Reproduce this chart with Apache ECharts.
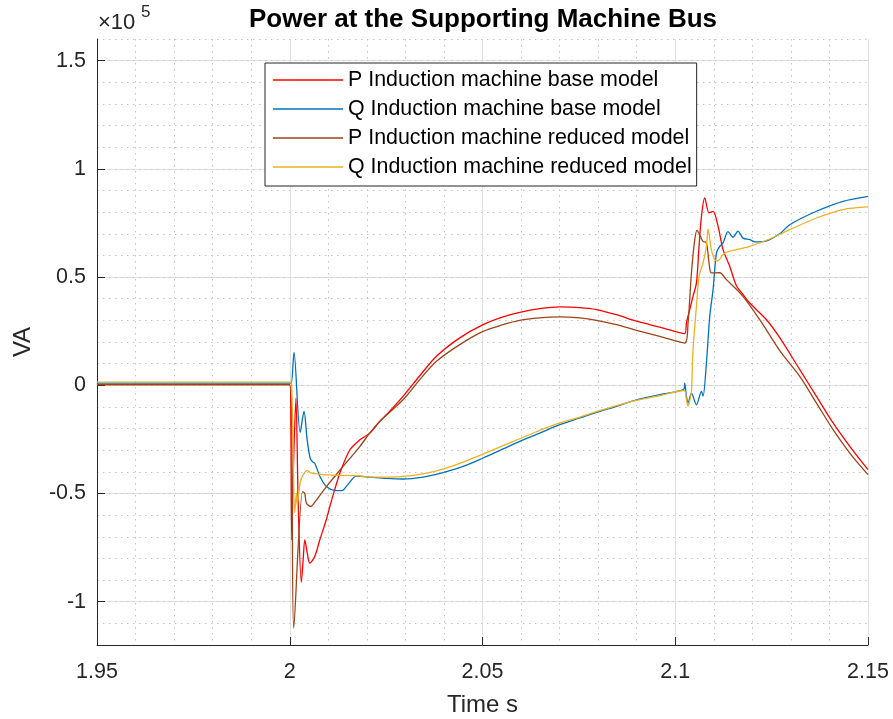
<!DOCTYPE html>
<html>
<head>
<meta charset="utf-8">
<script src="https://cdn.jsdelivr.net/npm/echarts@6/dist/echarts.min.js"></script>
<style>
html,body{margin:0;padding:0;background:#fff;}
#chart{width:893px;height:719px;}
</style>
</head>
<body>
<div id="chart"></div>
<script>
// Values are in units of 1e5 VA (axis multiplier shown as x10^5)
const seriesNames = [
  'P Induction machine base model',
  'Q Induction machine base model',
  'P Induction machine reduced model',
  'Q Induction machine reduced model'
];
const xTicks = [1.95, 2.0, 2.05, 2.1, 2.15];
const yTicks = [-1, -0.5, 0, 0.5, 1, 1.5];

const pBaseT = [1.95, 2.0, 2.0003, 2.00052, 2.0010, 2.0016, 2.0022, 2.0030, 2.0035, 2.0039, 2.0046, 2.0052, 2.0065, 2.0078, 2.0095, 2.0104, 2.0117, 2.0130, 2.0156, 2.0182, 2.02075, 2.02335, 2.02508, 2.02939, 2.03372, 2.03806, 2.0441, 2.05014, 2.05533, 2.05966, 2.06485, 2.07004, 2.07523, 2.07956, 2.08475, 2.08994, 2.09598, 2.10246, 2.1029, 2.10376, 2.10461, 2.1055, 2.10617, 2.1068, 2.10765, 2.10877, 2.10981, 2.1111, 2.1124, 2.11413, 2.11587, 2.11757, 2.11933, 2.12366, 2.12711, 2.1323, 2.13663, 2.14094, 2.14527, 2.15];
const pBaseV = [0.003, 0.003, -0.2, -0.714, -0.35, -0.06, -0.55, -0.91, -0.80, -0.714, -0.78, -0.822, -0.79, -0.714, -0.62, -0.56, -0.48, -0.406, -0.298, -0.252, -0.221, -0.167, -0.136, -0.051, 0.044, 0.134, 0.219, 0.280, 0.316, 0.337, 0.354, 0.362, 0.359, 0.350, 0.326, 0.296, 0.269, 0.239, 0.288, 0.350, 0.411, 0.473, 0.642, 0.781, 0.866, 0.797, 0.804, 0.735, 0.627, 0.550, 0.460, 0.420, 0.380, 0.303, 0.220, 0.072, -0.051, -0.174, -0.282, -0.390];

const qBaseT = [1.95, 2.0, 2.0004, 2.0011, 2.0027, 2.0037, 2.0045, 2.0053, 2.0060, 2.0065, 2.0078, 2.0095, 2.0117, 2.0135, 2.0150, 2.0173, 2.02075, 2.02508, 2.02939, 2.03458, 2.03977, 2.04496, 2.05014, 2.05533, 2.05966, 2.06485, 2.07004, 2.07523, 2.07956, 2.08475, 2.08994, 2.09598, 2.10228, 2.10246, 2.1029, 2.10332, 2.1042, 2.1055, 2.1068, 2.10721, 2.10809, 2.10895, 2.10981, 2.11069, 2.11154, 2.1124, 2.11369, 2.11498, 2.11628, 2.11757, 2.11933, 2.12062, 2.12322, 2.12711, 2.1297, 2.13663, 2.14354, 2.15];
const qBaseV = [0.010, 0.010, 0.010, 0.152, -0.218, -0.121, -0.250, -0.337, -0.355, -0.360, -0.420, -0.468, -0.486, -0.487, -0.460, -0.420, -0.424, -0.430, -0.433, -0.424, -0.403, -0.375, -0.336, -0.294, -0.259, -0.221, -0.182, -0.151, -0.125, -0.097, -0.067, -0.043, -0.017, 0.010, -0.050, -0.082, -0.036, -0.090, -0.028, -0.050, 0.103, 0.319, 0.442, 0.611, 0.642, 0.658, 0.710, 0.684, 0.712, 0.680, 0.673, 0.663, 0.665, 0.700, 0.742, 0.804, 0.850, 0.873];

const pRedT = [1.95, 2.0, 2.00104, 2.00332, 2.0039, 2.00433, 2.0055, 2.0065, 2.00952, 2.01383, 2.01816, 2.02075, 2.02335, 2.02939, 2.03372, 2.03806, 2.0441, 2.05014, 2.05533, 2.05966, 2.06485, 2.07004, 2.07523, 2.07956, 2.08475, 2.08994, 2.09598, 2.10246, 2.10332, 2.1042, 2.10506, 2.10565, 2.10654, 2.10721, 2.10809, 2.10877, 2.10939, 2.11154, 2.11328, 2.11757, 2.12192, 2.12711, 2.1323, 2.13663, 2.14094, 2.14527, 2.15];
const pRedV = [0.003, 0.003, -1.122, -0.491, -0.500, -0.545, -0.560, -0.540, -0.468, -0.375, -0.283, -0.221, -0.167, -0.067, 0.026, 0.111, 0.188, 0.249, 0.280, 0.300, 0.311, 0.316, 0.311, 0.300, 0.280, 0.254, 0.226, 0.195, 0.288, 0.519, 0.673, 0.716, 0.688, 0.665, 0.658, 0.565, 0.519, 0.520, 0.488, 0.411, 0.303, 0.160, 0.041, -0.082, -0.205, -0.313, -0.413];

const qRedT = [1.95, 2.0, 2.0005, 2.0013, 2.0017, 2.0019, 2.0023, 2.0027, 2.0033, 2.0045, 2.0055, 2.0065, 2.0095, 2.0180, 2.02075, 2.02508, 2.02939, 2.03458, 2.03977, 2.04496, 2.05014, 2.05533, 2.05966, 2.06485, 2.07004, 2.07523, 2.07956, 2.08475, 2.08994, 2.09598, 2.10228, 2.1029, 2.10332, 2.10376, 2.1042, 2.10461, 2.1055, 2.10617, 2.10721, 2.10809, 2.10851, 2.10939, 2.11025, 2.1111, 2.1124, 2.11369, 2.11587, 2.11933, 2.12451, 2.1297, 2.13663, 2.14354, 2.15];
const qRedV = [0.015, 0.015, 0.000, -0.590, -0.500, -0.550, -0.500, -0.450, -0.420, -0.394, -0.405, -0.408, -0.414, -0.418, -0.424, -0.424, -0.421, -0.409, -0.387, -0.355, -0.318, -0.279, -0.247, -0.208, -0.174, -0.147, -0.122, -0.094, -0.070, -0.048, -0.024, -0.067, -0.096, -0.070, -0.030, 0.165, 0.365, 0.503, 0.565, 0.642, 0.721, 0.625, 0.581, 0.575, 0.604, 0.617, 0.627, 0.642, 0.676, 0.719, 0.773, 0.812, 0.824];

const colors = ['#ff0000', '#0072bd', '#9c4417', '#edb120'];

function pairs(t, v) { return t.map((x, i) => [x, v[i]]); }
const seriesData = [pairs(pBaseT, pBaseV), pairs(qBaseT, qBaseV), pairs(pRedT, pRedV), pairs(qRedT, qRedV)];

const FONT = "'Liberation Sans', Arial, Helvetica, sans-serif";
const AX = '#262626';
const chart = echarts.init(document.getElementById('chart'), null, {renderer: 'canvas'});

const option = {
  animation: false,
  backgroundColor: '#fff',
  title: {
    text: 'Power at the Supporting Machine Bus',
    left: 478, top: 2, textAlign: 'center',
    textStyle: {fontFamily: FONT, fontSize: 26, fontWeight: 'bold', color: '#000'}
  },
  grid: {left: 97, right: 25, top: 39, bottom: 74, containLabel: false, outerBoundsMode: 'none'},
  legend: {
    orient: 'vertical', left: 265, top: 63,
    data: seriesNames,
    icon: 'rect',
    itemWidth: 70, itemHeight: 1.4, itemGap: 5,
    padding: [5, 5, 7, 8],
    borderColor: '#262626', borderWidth: 1, backgroundColor: '#fff',
    textStyle: {fontFamily: FONT, fontSize: 21.4, color: '#000', lineHeight: 24}
  },
  xAxis: {
    type: 'value', min: 1.95, max: 2.15, interval: 0.05,
    name: 'Time s', nameLocation: 'middle', nameGap: 48,
    nameTextStyle: {fontFamily: FONT, fontSize: 24, color: AX},
    axisLine: {show: true, onZero: false, lineStyle: {color: AX, width: 1}},
    axisTick: {show: true, inside: true, length: 8, lineStyle: {color: AX}},
    axisLabel: {fontFamily: FONT, fontSize: 21.5, color: AX, margin: 16,
      formatter: v => String(+v.toFixed(2))},
    splitLine: {show: true, lineStyle: {color: '#e1e1e1', width: 1}},
    minorTick: {show: false, splitNumber: 5},
    minorSplitLine: {show: true, lineStyle: {color: '#c4c4c4', width: 1, type: [1.5, 4.5]}}
  },
  yAxis: [{
    type: 'value', min: -1.2, max: 1.6, interval: 0.1,
    name: 'VA', nameLocation: 'middle', nameGap: 62, nameRotate: 90,
    nameTextStyle: {fontFamily: FONT, fontSize: 24, color: AX},
    axisLine: {show: true, onZero: false, lineStyle: {color: AX, width: 1}},
    axisTick: {show: true, inside: true, length: 8, lineStyle: {color: AX}, customValues: yTicks},
    axisLabel: {fontFamily: FONT, fontSize: 21.5, color: AX, margin: 11, customValues: yTicks,
      formatter: v => String(+v.toFixed(2))},
    splitLine: {show: true, lineStyle: {color: '#e1e1e1', width: 1}}
  }, {
    type: 'value', min: -1.2, max: 1.6, interval: 0.1, position: 'left',
    axisLine: {show: false}, axisTick: {show: false}, axisLabel: {show: false},
    splitLine: {show: true, lineStyle: {color: '#c4c4c4', width: 1, type: [1.5, 4.5]}}
  }],
  graphic: [
    {type: 'text', left: 98, top: 12, style: {text: '\u00d710', font: '22px ' + FONT, fill: AX}},
    {type: 'text', left: 141, top: 4, style: {text: '5', font: '17px ' + FONT, fill: AX}}
  ],
  series: seriesNames.map((n, i) => ({
    name: n, type: 'line', data: seriesData[i], yAxisIndex: 0,
    showSymbol: false, symbol: 'none', smooth: 0.3,
    lineStyle: {color: colors[i], width: 1.3},
    itemStyle: {color: colors[i]},
    z: 2 + i
  }))
};
chart.setOption(option);
</script>
</body>
</html>
